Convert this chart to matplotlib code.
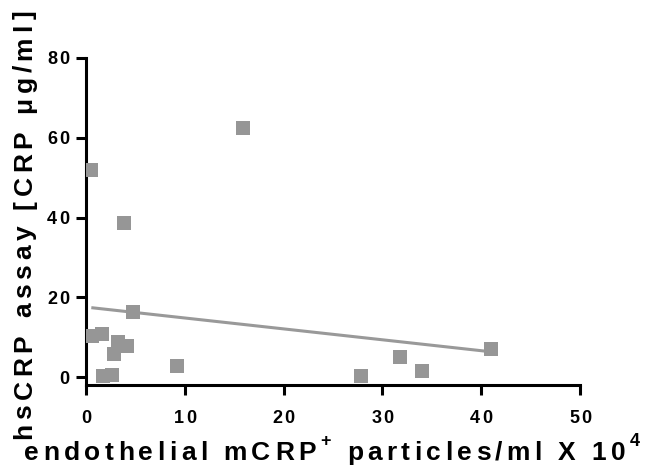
import numpy as np
import matplotlib
matplotlib.use("Agg")
import matplotlib.pyplot as plt
from matplotlib import font_manager
from matplotlib.ft2font import FT2Font

FAMILY = 'Liberation Sans'
plt.rcParams['font.family'] = [FAMILY, 'DejaVu Sans']

# Data (endothelial mCRP+ particles/ml x10^4 vs hsCRP ug/ml)
x_vals = [15.9, 0.54, 3.82, 4.73, 0.64, 1.59, 3.27, 4.12, 2.86, 9.18, 1.69, 2.6, 27.8, 31.8, 34.0, 41.0]
y_vals = [62.4, 52.0, 38.5, 16.2, 10.4, 10.85, 8.7, 7.7, 5.8, 2.8, 0.3, 0.5, 0.33, 5.0, 1.4, 7.0]
x_ticks = [0, 10, 20, 30, 40, 50]
y_ticks = [0, 20, 40, 60, 80]
x_label_parts = [("endothelial mCRP", "n"), ("+", "s"), (" particles/ml X 10", "n"), ("4", "s")]
y_label_parts = [("hsCRP assay [CRP μg/ml]", "n")]

W, H, DPI = 645, 475, 100
fig = plt.figure(figsize=(W / DPI, H / DPI), dpi=DPI)
ax = fig.add_axes([0.1333, 0.1895, 0.7659, 0.6884])

_fp = font_manager.FontProperties(family=FAMILY, weight='bold')
_font = FT2Font(font_manager.findfont(_fp))


def adv(ch, size_pt):
    _font.set_size(size_pt, DPI)
    g = _font.load_char(ord(ch))
    return g.linearHoriAdvance / 65536.0


def spaced_text(parts, x, y, size, sup_size, spacing, rotation=0, align='center', sup_raise=0.0):
    chars = []
    for txt, kind in parts:
        for ch in txt:
            s = size if kind == 'n' else sup_size
            r = 0.0 if kind == 'n' else sup_raise
            chars.append((ch, s, r))
    widths = [adv(c, s) for c, s, r in chars]
    total = sum(widths) + spacing * (len(chars) - 1)
    if align == 'center':
        start = -total / 2
    elif align == 'right':
        start = -total
    else:
        start = 0.0
    off = start
    for (c, s, r), w in zip(chars, widths):
        if c != ' ':
            if rotation == 0:
                px, py = x + off, y + r
            else:
                px, py = x - r, y + off
            fig.text(px / W, py / H, c, fontsize=s, fontweight='bold', family=FAMILY,
                     rotation=rotation, rotation_mode='anchor', ha='left', va='baseline',
                     color='black')
        off += w + spacing


x = np.array(x_vals)
y = np.array(y_vals)
ax.plot(x, y, 's', color='#969696', markersize=10, markeredgewidth=0, zorder=3)

slope, intercept = np.polyfit(x, y, 1)
xl = np.array([x.min(), x.max()])
ax.plot(xl, intercept + slope * xl, color='#999999', lw=2.2, zorder=2, solid_capstyle='butt')

ax.set_xlim(0, 50)
ax.set_ylim(-2, 80)
ax.set_xticks(x_ticks)
ax.set_yticks(y_ticks)
ax.tick_params(labelbottom=False, labelleft=False)

for s in ['top', 'right']:
    ax.spines[s].set_visible(False)
for s in ['left', 'bottom']:
    ax.spines[s].set_linewidth(2.2)
ax.tick_params(axis='both', direction='out', length=7, width=2.2)

# tick labels with letter spacing
tick_size = 13
ylo = ax.get_ylim()[0]
for t in x_ticks:
    px, py = ax.transData.transform((t, ylo))
    spaced_text([(str(t), 'n')], px, H - 423, tick_size, tick_size, 2.0)
for t in y_ticks:
    px, py = ax.transData.transform((0, t))
    spaced_text([(str(t), 'n')], 69, py - 6.5, tick_size, tick_size, 2.0, align='right')

# axis labels
spaced_text(x_label_parts, 332, 15, 19, 13, 4.4, sup_raise=14)
spaced_text(y_label_parts, 31.5, 250, 19, 13, 4.7, rotation=90)

fig.savefig("out.png", dpi=DPI)
